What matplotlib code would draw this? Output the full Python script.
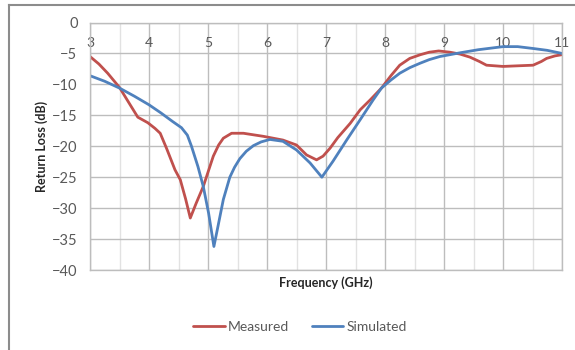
import matplotlib
matplotlib.use("Agg")
import matplotlib.pyplot as plt
from matplotlib.lines import Line2D
from matplotlib.ticker import MultipleLocator

plt.rcParams['font.family'] = ['Lato', 'DejaVu Sans']

meas_f = [3.0, 3.15, 3.3, 3.5, 3.7, 3.81, 3.98, 4.1, 4.19, 4.3, 4.44, 4.53, 4.62, 4.7, 4.8, 4.92,
          5.09, 5.18, 5.26, 5.4, 5.6, 5.94, 6.27, 6.5, 6.67, 6.84, 6.95, 7.07, 7.2, 7.41,
          7.58, 7.75, 7.94, 8.1, 8.25, 8.42, 8.6, 8.75, 8.91, 9.1, 9.27, 9.44, 9.6, 9.72,
          10.0, 10.25, 10.51, 10.65, 10.74, 10.88, 11.0]
meas_db = [-5.5, -6.7, -8.2, -10.5, -13.6, -15.3, -16.2, -17.1, -17.9, -20.4, -23.8, -25.4, -28.5, -31.6, -29.2, -26.5,
           -21.6, -19.8, -18.7, -17.9, -17.9, -18.4, -19.0, -19.8, -21.4, -22.2, -21.6, -20.3, -18.6, -16.3,
           -14.1, -12.5, -10.6, -8.6, -6.9, -5.8, -5.2, -4.8, -4.6, -4.8, -5.1, -5.6, -6.3, -6.9,
           -7.1, -7.0, -6.9, -6.3, -5.8, -5.4, -5.2]

sim_f = [3.0, 3.25, 3.5, 3.75, 4.0, 4.2, 4.4, 4.55, 4.65, 4.72, 4.83, 4.92, 5.01, 5.1, 5.17,
         5.26, 5.37, 5.45, 5.54, 5.65, 5.77, 5.9, 6.05, 6.27, 6.5, 6.73, 6.93, 7.12, 7.35,
         7.58, 7.8, 7.94, 8.1, 8.25, 8.42, 8.59, 8.75, 8.93, 9.1, 9.27, 9.58, 10.0, 10.25,
         10.51, 10.75, 11.0]
sim_db = [-8.6, -9.5, -10.6, -11.9, -13.3, -14.6, -16.0, -17.0, -18.2, -20.0, -23.3, -26.5, -30.8, -36.2, -32.9,
          -28.6, -25.0, -23.4, -22.0, -20.8, -19.9, -19.3, -18.9, -19.2, -20.6, -22.7, -25.0, -22.4, -19.0,
          -15.7, -12.5, -10.6, -9.3, -8.2, -7.3, -6.6, -6.0, -5.5, -5.2, -4.9, -4.4, -3.9, -3.9,
          -4.2, -4.5, -5.0]

x_ticks = [3, 4, 5, 6, 7, 8, 9, 10, 11]
y_ticks = [0, -5, -10, -15, -20, -25, -30, -35, -40]

fig = plt.figure(figsize=(5.75, 3.5), dpi=100)
ax = fig.add_axes([90/575, 80/350, 472/575, 247.5/350])

ax.plot(meas_f, meas_db, color='#C0504D', lw=2.0, label='Measured',
        solid_joinstyle='round', solid_capstyle='round')
ax.plot(sim_f, sim_db, color='#4F81BD', lw=2.0, label='Simulated',
        solid_joinstyle='round', solid_capstyle='round')

ax.set_xlim(3, 11)
ax.set_ylim(-40, 0)
ax.set_xticks(x_ticks)
ax.set_yticks(y_ticks)
ax.xaxis.set_minor_locator(MultipleLocator(0.5))
ax.grid(True, which='major', color='#bdbdbd', lw=1.0)
ax.grid(True, which='minor', axis='x', color='#e2e2e2', lw=1.0)
ax.set_axisbelow(True)
for s in ax.spines.values():
    s.set_color('#bdbdbd')
    s.set_linewidth(1.0)

ax.tick_params(axis='x', which='both', top=False, bottom=False, labeltop=True,
               labelbottom=False, length=0, pad=-19, labelsize=10, labelcolor='#595959')
ax.tick_params(axis='y', which='both', length=0, pad=9, labelsize=10.5, labelcolor='#595959')

fig.text(326/575, 1 - 283/350, 'Frequency (GHz)', ha='center', va='center',
         fontsize=9, fontweight='bold', color='#262626')
fig.text(42/575, 1 - 146/350, 'Return Loss (dB)', ha='center', va='center',
         rotation=90, fontsize=9, fontweight='bold', color='#262626')

leg = fig.legend(loc='center', bbox_to_anchor=(300/575, 1 - 327/350), ncol=2,
                 frameon=False, fontsize=10, handlelength=2.3, handletextpad=0.2,
                 columnspacing=1.6)
for t in leg.get_texts():
    t.set_color('#595959')

fig.add_artist(Line2D([9/575, 9/575], [0, 1 - 5/350], color='#8c8c8c', lw=1.5,
                      transform=fig.transFigure))
fig.add_artist(Line2D([9/575, 1], [1 - 5/350, 1 - 5/350], color='#8c8c8c', lw=1.5,
                      transform=fig.transFigure))

fig.savefig('out.png', dpi=100)
